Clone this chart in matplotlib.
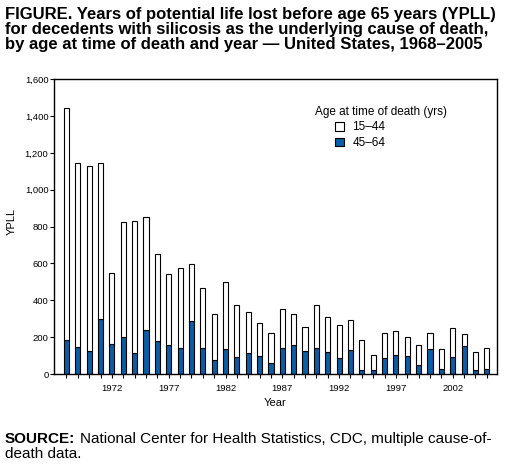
import matplotlib
matplotlib.use("Agg")
import matplotlib.pyplot as plt
from matplotlib.patches import Patch
from matplotlib.ticker import FuncFormatter
import numpy as np

years = list(range(1968, 2006))
total = [1443, 1146, 1130, 1146, 551, 827, 832, 850, 650, 542, 573, 595, 465, 324,
         497, 373, 335, 276, 222, 351, 324, 254, 373, 308, 265, 292, 184, 103, 222,
         232, 200, 157, 222, 135, 249, 216, 119, 141]
age_45_64 = [184, 146, 124, 297, 162, 200, 114, 238, 178, 157, 141, 286, 141, 76,
             135, 92, 114, 97, 59, 141, 157, 124, 141, 119, 86, 130, 22, 22, 86,
             103, 97, 49, 135, 27, 92, 151, 22, 27]
age_15_44 = [t - b for t, b in zip(total, age_45_64)]
tick_years = [1972, 1977, 1982, 1987, 1992, 1997, 2002]

plt.rcParams['font.family'] = ['Liberation Sans', 'DejaVu Sans']

W, H = 509, 474
fig = plt.figure(figsize=(W / 100, H / 100), dpi=100)
ax = fig.add_axes([54 / W, 100 / H, (497 - 54) / W, (374 - 79.3) / H])

blue = '#0A5EA8'
ax.bar(years, age_45_64, width=0.45, color=blue, edgecolor='black', linewidth=0.8, zorder=2)
ax.bar(years, age_15_44, bottom=age_45_64, width=0.45, color='white', edgecolor='black',
       linewidth=0.8, zorder=2)

ax.set_xlim(1966.9, 2005.9)
ax.set_ylim(0, 1600)
ax.set_yticks(range(0, 1601, 200))
ax.yaxis.set_major_formatter(FuncFormatter(lambda v, p: f"{int(v):,}"))
ax.set_xticks(years)
ax.set_xticklabels([str(y) if y in tick_years else '' for y in years])
ax.tick_params(axis='both', labelsize=6.8, length=3, width=0.8, direction='out', pad=1)
ax.tick_params(axis='x', pad=4)
for s in ax.spines.values():
    s.set_linewidth(1.0)

ax.set_xlabel('Year', fontsize=8, labelpad=4)
fig.text(12 / W, 1 - 221 / H, 'YPLL', rotation=90, fontsize=8, ha='center', va='center')

# legend
ax.text(0.59, 0.888, 'Age at time of death (yrs)', transform=ax.transAxes, fontsize=8.5,
        ha='left', va='center')
handles = [Patch(facecolor='white', edgecolor='black', linewidth=0.8, label='15–44'),
           Patch(facecolor=blue, edgecolor='black', linewidth=0.8, label='45–64')]
ax.legend(handles=handles, loc='upper left', bbox_to_anchor=(0.635, 0.857), frameon=False,
          fontsize=8.5, handlelength=0.75, handleheight=0.75, handletextpad=0.7,
          labelspacing=0.3, borderpad=0, borderaxespad=0)

title = ("FIGURE. Years of potential life lost before age 65 years (YPLL)\n"
         "for decedents with silicosis as the underlying cause of death,\n"
         "by age at time of death and year — United States, 1968–2005")
fig.text(5 / W, 1 - 7 / H, title, fontsize=12, fontweight='bold', ha='left', va='top',
         linespacing=1.0)

fig.text(5 / W, 1 - 432 / H, 'SOURCE:', fontsize=11, fontweight='bold', ha='left', va='top')
fig.text(80 / W, 1 - 432 / H, 'National Center for Health Statistics, CDC, multiple cause-of-',
         fontsize=11, ha='left', va='top')
fig.text(5 / W, 1 - 447 / H, 'death data.', fontsize=11, ha='left', va='top')

fig.savefig('out.png', dpi=100)
